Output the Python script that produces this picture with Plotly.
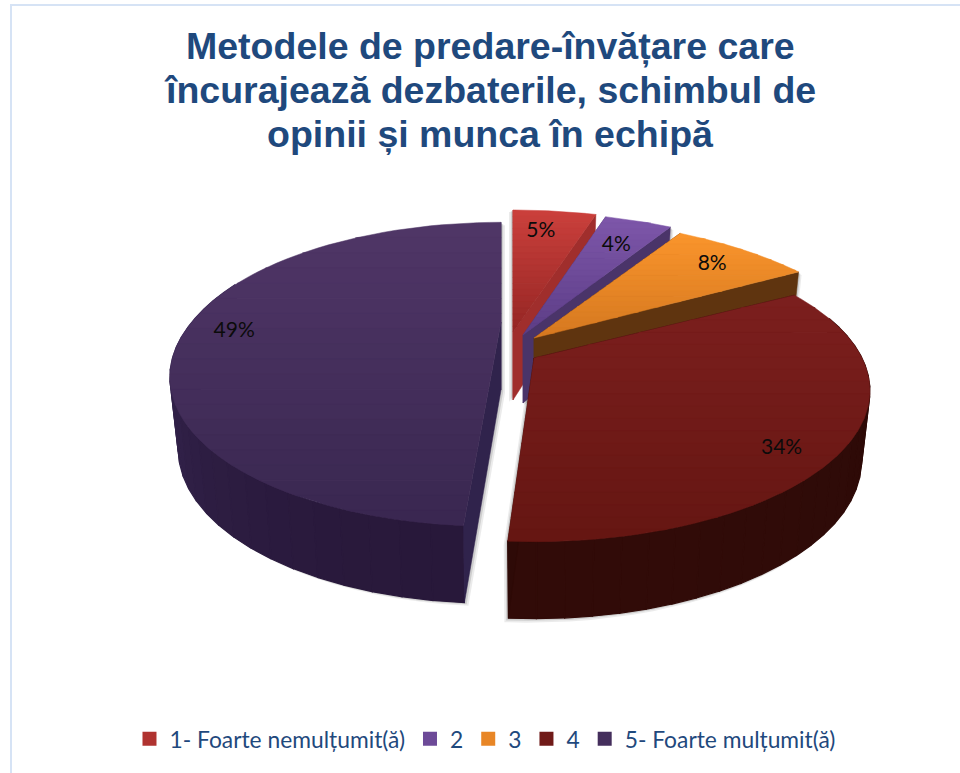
import math
import plotly.graph_objects as go

# ---- data
categories = ["1- Foarte nemulțumit(ă)", "2", "3", "4", "5- Foarte mulțumit(ă)"]
values = [5, 4, 8, 34, 49]
title_lines = ["Metodele de predare-învățare care",
               "încurajează dezbaterile, schimbul de",
               "opinii și munca în echipă"]

# ---- styles: top-face gradient (far edge, near edge), wall colours
top_far = ["#cb403c", "#7e57aa", "#fa952c", "#7c1f1e", "#503667"]
top_near = ["#952624", "#5c3d86", "#d57820", "#651612", "#392750"]
cut_wall = ["#a02e2c", "#4a3469", "#5f340f", "#2e0a07", "#30234c"]
rim_side = ["#8a2422", "#4a3469", "#6b3a10", "#2c0a07", "#3a2a55"]
rim_front = ["#5c1614", "#33244a", "#4a280a", "#310b08", "#28183a"]
title_y = [46, 90, 134]

# ---- projection of each exploded slice (pixel frame)
apex_x = [513, 523, 534, 534, 501]
apex_y = [332, 335, 338, 358, 322]
radius_x = [356, 355, 352, 328, 309]
radius_y = [164, 165, 160, 144, 134]
persp = [0.344, 0.344, 0.344, 0.216, 0.344]
shear = [0.0, 0.0, 0.0, 0.0, -0.039]
label_r = [0.807, 0.764, 0.83, 0.858, 0.85]
label_dt = [-1.9, 0.0, 0.0, 6.6, -5.2]
label_dy = 3
draw_order = [0, 1, 2, 4, 3]
shadow_dir = [(-4, 2), (3, 3), (3, 3), (-4, 4), (4, 3)]


def hexrgb(c):
    return tuple(int(c[i:i + 2], 16) for i in (1, 3, 5))


def mix(a, b, t):
    a, b = hexrgb(a), hexrgb(b)
    return "rgb(%d,%d,%d)" % tuple(round(a[i] + (b[i] - a[i]) * t) for i in range(3))


def project(i, theta, r=1.0):
    X = math.sin(math.radians(theta)) * r
    Y = -math.cos(math.radians(theta)) * r
    p = 1 / (1 - persp[i] * Y)
    dy = radius_y[i] * Y * p
    return apex_x[i] + radius_x[i] * X * p + shear[i] * max(0.0, dy), apex_y[i] + dy


def drop(i, pt, theta=None):
    Y = -math.cos(math.radians(theta)) if theta is not None else 0.0
    h = 68 + 9 * Y
    return apex_x[i] + (pt[0] - apex_x[i]) * 0.975, pt[1] + h


def clip(poly, y0, keep_below):
    out = []
    n = len(poly)
    for k in range(n):
        a, b = poly[k], poly[(k + 1) % n]
        ina = a[1] >= y0 if keep_below else a[1] <= y0
        inb = b[1] >= y0 if keep_below else b[1] <= y0
        if ina:
            out.append(a)
        if ina != inb:
            t = (y0 - a[1]) / (b[1] - a[1])
            out.append((a[0] + (b[0] - a[0]) * t, y0))
    return out


def hull(points):
    pts = sorted(set(points))

    def half(seq):
        h = []
        for q in seq:
            while len(h) > 1 and ((h[-1][0] - h[-2][0]) * (q[1] - h[-2][1]) -
                                  (h[-1][1] - h[-2][1]) * (q[0] - h[-2][0])) <= 0:
                h.pop()
            h.append(q)
        return h[:-1]
    return half(pts) + half(pts[::-1])


fig = go.Figure()


def poly_trace(poly, color, lw=0.5):
    xs = [p[0] for p in poly] + [poly[0][0]]
    ys = [p[1] for p in poly] + [poly[0][1]]
    fig.add_trace(go.Scatter(x=xs, y=ys, mode="lines", fill="toself", fillcolor=color,
                             line=dict(color=color, width=lw), hoverinfo="skip",
                             showlegend=False))


total = sum(values)
starts, acc = [], 0.0
for v in values:
    starts.append(acc / total * 360)
    acc += v
ends = starts[1:] + [360.0]

# soft shadows below everything
for i in range(len(values)):
    n = max(4, int((ends[i] - starts[i]) / 3))
    ths = [starts[i] + (ends[i] - starts[i]) * k / n for k in range(n + 1)]
    pts = [(float(apex_x[i]), float(apex_y[i])), drop(i, (apex_x[i], apex_y[i]))]
    for t in ths:
        q = project(i, t)
        pts += [q, drop(i, q, t)]
    shape = hull(pts)
    for s, a in ((1.0, 0.08), (0.55, 0.12)):
        dx, dy = shadow_dir[i]
        poly_trace([(x + dx * s, y + dy * s) for x, y in shape], "rgba(0,0,0,%.2f)" % a, 0)

# slices, painted back to front
for i in draw_order:
    a0, a1 = starts[i], ends[i]
    top_pt = (float(apex_x[i]), float(apex_y[i]))
    bot_pt = drop(i, top_pt)

    # outer rim: flat-coloured facets
    nseg = max(3, round((a1 - a0) / 4))
    step = (a1 - a0) / nseg
    order = sorted(range(nseg), key=lambda s: -math.cos(math.radians(a0 + (s + .5) * step)))
    for s in order:
        t0, t1 = a0 + s * step, a0 + (s + 1) * step
        ym = -math.cos(math.radians(a0 + (s + .5) * step))
        if ym < -0.3:
            continue
        p0, p1 = project(i, t0), project(i, t1)
        q0, q1 = drop(i, p0, t0), drop(i, p1, t1)
        poly_trace([p0, p1, q1, q0], mix(rim_side[i], rim_front[i], max(0.0, ym)), 1.2)

    # flat cut walls
    for t in (a0, a1):
        e = project(i, t)
        poly_trace([top_pt, e, drop(i, e, t), bot_pt], cut_wall[i])

    # top face, banded vertical gradient
    face = [top_pt] + [project(i, a0 + (a1 - a0) * k / 60) for k in range(61)]
    ymin = min(p[1] for p in face)
    ymax = max(p[1] for p in face)
    bands = 20
    for b in range(bands):
        y0 = ymin + (ymax - ymin) * b / bands
        y1 = ymin + (ymax - ymin) * (b + 1) / bands + 0.6
        part = clip(clip(face, y0, True), y1, False)
        if len(part) >= 3:
            poly_trace(part, mix(top_far[i], top_near[i], (b + .5) / bands))

# data labels
lab_x, lab_y, lab_t = [], [], []
for i, v in enumerate(values):
    x, y = project(i, (starts[i] + ends[i]) / 2 + label_dt[i], label_r[i])
    lab_x.append(x - shear[i] * max(0.0, y - apex_y[i]))
    lab_y.append(y + label_dy)
    lab_t.append("%d%%" % v)
fig.add_trace(go.Scatter(x=lab_x, y=lab_y, text=lab_t, mode="text", textposition="middle center",
                         textfont=dict(family="Lato", size=21, color="#0b0b0b"),
                         hoverinfo="skip", showlegend=False))

# legend entries
for i, name in enumerate(categories):
    fig.add_trace(go.Scatter(x=[None], y=[None], mode="markers", name=name,
                             marker=dict(symbol="square", size=14, color=mix(top_far[i], top_near[i], .5))))

fig.update_layout(
    width=960, height=773, margin=dict(l=0, r=0, t=0, b=0),
    paper_bgcolor="white", plot_bgcolor="white",
    xaxis=dict(visible=False, range=[0, 960], fixedrange=True),
    yaxis=dict(visible=False, range=[773, 0], fixedrange=True),
    annotations=[dict(text=line, x=490, y=yy, xref="x", yref="y", xanchor="center", yanchor="middle",
                      showarrow=False,
                      font=dict(family="Liberation Sans", size=37.5, color="#1f497d", weight="bold"))
                 for line, yy in zip(title_lines, title_y)],
    legend=dict(orientation="h", x=0.5052, xanchor="center", y=0.044, yanchor="middle",
                font=dict(family="Lato", size=22.8, color="#1f497d"), bgcolor="rgba(0,0,0,0)"),
    shapes=[dict(type="rect", x0=11, y0=5, x1=1000, y1=800, line=dict(color="#d6e3f5", width=2),
                 fillcolor="rgba(0,0,0,0)", layer="below")],
)
fig.write_html("out.html", config={"displayModeBar": False},
               post_script="document.body.style.margin='0';")
